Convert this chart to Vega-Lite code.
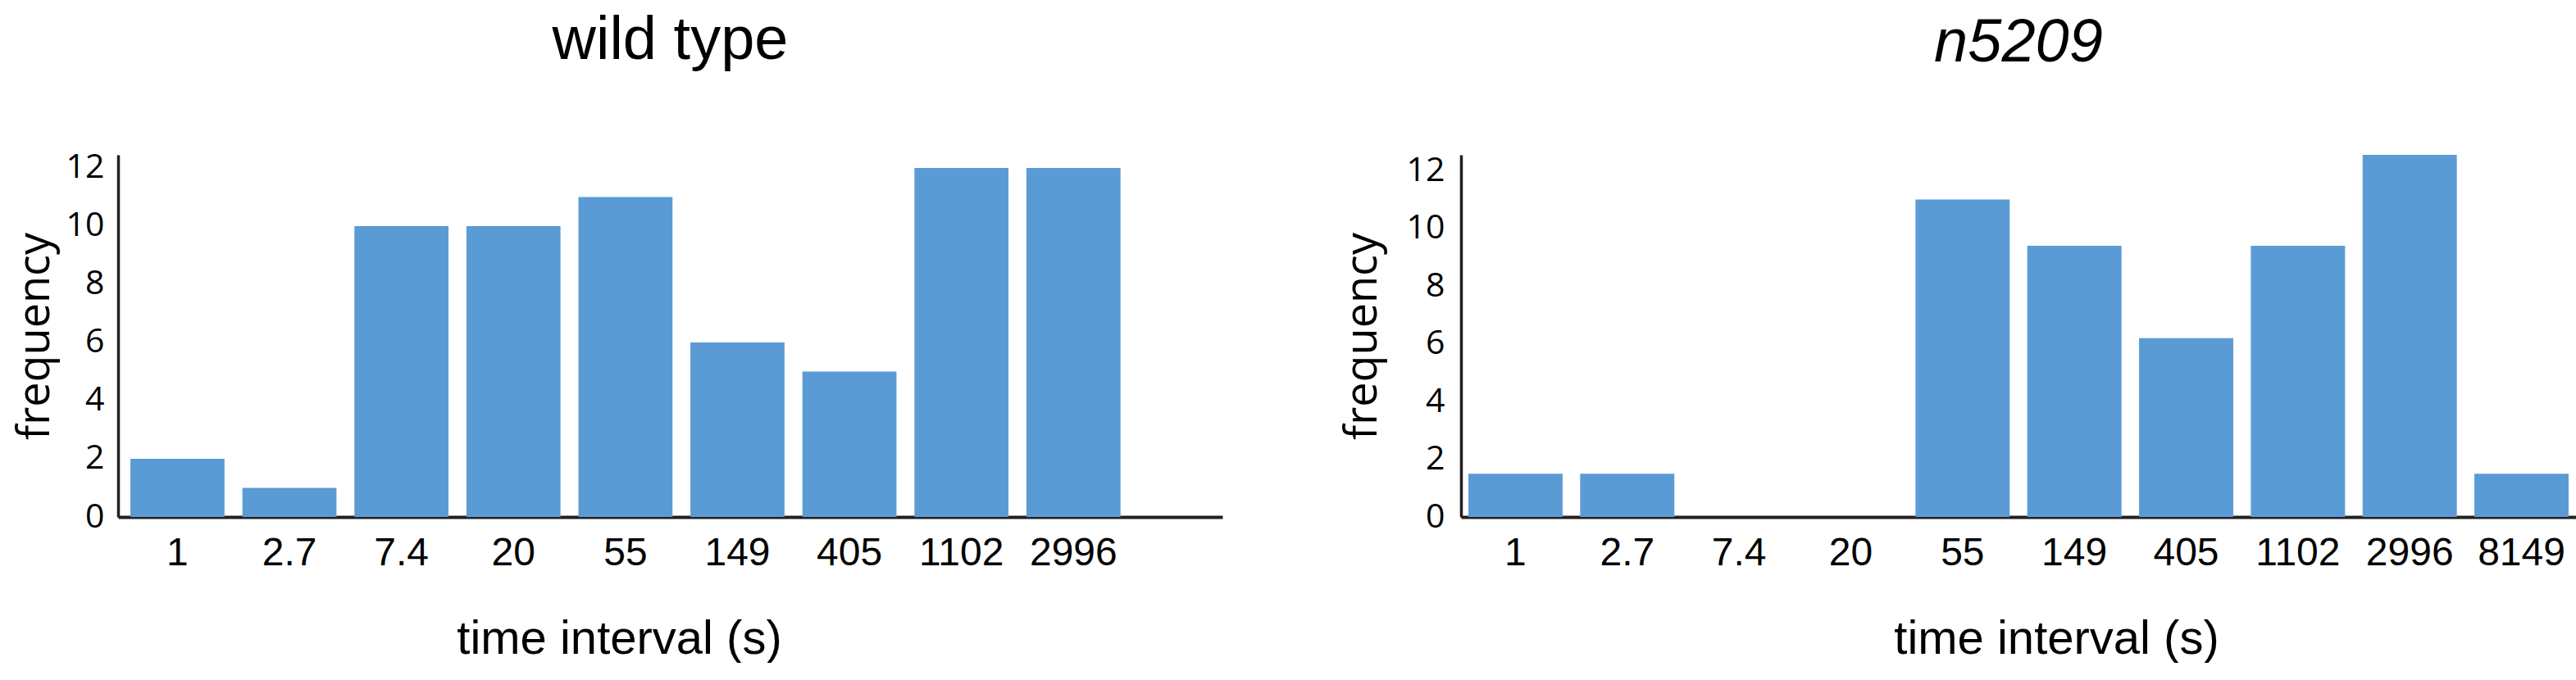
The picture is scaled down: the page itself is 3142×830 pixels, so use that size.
{
  "$schema": "https://vega.github.io/schema/vega-lite/v6.json",
  "background": "white",
  "padding": {"left": 16, "top": 12, "right": 0, "bottom": 0},
  "spacing": 144,
  "config": {
    "view": {"stroke": null},
    "title": {"font": "Liberation Sans", "fontSize": 74, "fontWeight": "normal", "color": "#000000", "anchor": "middle", "offset": 96},
    "axis": {"grid": false, "ticks": false, "domainColor": "#231f20", "labelColor": "#000000", "titleColor": "#000000", "titleFontWeight": "normal", "labelOverlap": false}
  },
  "datasets": {
    "wt": [
      {"interval": "1", "frequency": 2},
      {"interval": "2.7", "frequency": 1},
      {"interval": "7.4", "frequency": 10},
      {"interval": "20", "frequency": 10},
      {"interval": "55", "frequency": 11},
      {"interval": "149", "frequency": 6},
      {"interval": "405", "frequency": 5},
      {"interval": "1102", "frequency": 12},
      {"interval": "2996", "frequency": 12}
    ],
    "mut": [
      {"interval": "1", "frequency": 1.5},
      {"interval": "2.7", "frequency": 1.5},
      {"interval": "7.4", "frequency": 0},
      {"interval": "20", "frequency": 0},
      {"interval": "55", "frequency": 11},
      {"interval": "149", "frequency": 9.4},
      {"interval": "405", "frequency": 6.2},
      {"interval": "1102", "frequency": 9.4},
      {"interval": "2996", "frequency": 12.55},
      {"interval": "8149", "frequency": 1.5}
    ]
  },
  "hconcat": [
    {
      "data": {"name": "wt"},
      "width": 1347,
      "height": 442,
      "title": {"text": "wild type"},
      "mark": {"type": "bar", "color": "#5b9bd5"},
      "encoding": {
        "x": {
          "field": "interval", "type": "ordinal",
          "scale": {"domain": ["1", "2.7", "7.4", "20", "55", "149", "405", "1102", "2996"], "paddingInner": 0.16, "paddingOuter": 0.51, "align": 0.108},
          "axis": {"title": "time interval (s)", "labelAngle": 0, "labelFont": "Liberation Sans", "labelFontSize": 48, "labelPadding": 20, "titleFont": "Liberation Sans", "titleFontSize": 58, "titlePadding": 52, "titleX": 611, "domainWidth": 4}
        },
        "y": {
          "field": "frequency", "type": "quantitative",
          "scale": {"domain": [0, 12.45], "nice": false},
          "axis": {"title": "frequency", "values": [0, 2, 4, 6, 8, 10, 12], "labelFont": "Open Sans", "labelFontSize": 41, "labelPadding": 17, "titleFont": "Open Sans", "titleFontSize": 54, "titlePadding": 10, "domainWidth": 3.5}
        }
      }
    },
    {
      "data": {"name": "mut"},
      "width": 1360,
      "height": 442,
      "title": {"text": "n5209", "fontStyle": "italic"},
      "mark": {"type": "bar", "color": "#5b9bd5"},
      "encoding": {
        "x": {
          "field": "interval", "type": "ordinal",
          "scale": {"domain": ["1", "2.7", "7.4", "20", "55", "149", "405", "1102", "2996", "8149"], "paddingInner": 0.157, "paddingOuter": 0.066},
          "axis": {"title": "time interval (s)", "labelAngle": 0, "labelFont": "Liberation Sans", "labelFontSize": 48, "labelPadding": 20, "titleFont": "Liberation Sans", "titleFontSize": 58, "titlePadding": 52, "titleX": 726, "domainWidth": 4}
        },
        "y": {
          "field": "frequency", "type": "quantitative",
          "scale": {"domain": [0, 12.55], "nice": false},
          "axis": {"title": "frequency", "values": [0, 2, 4, 6, 8, 10, 12], "labelFont": "Open Sans", "labelFontSize": 41, "labelPadding": 20, "titleFont": "Open Sans", "titleFontSize": 54, "titlePadding": 26, "domainWidth": 3.5}
        }
      }
    }
  ]
}
